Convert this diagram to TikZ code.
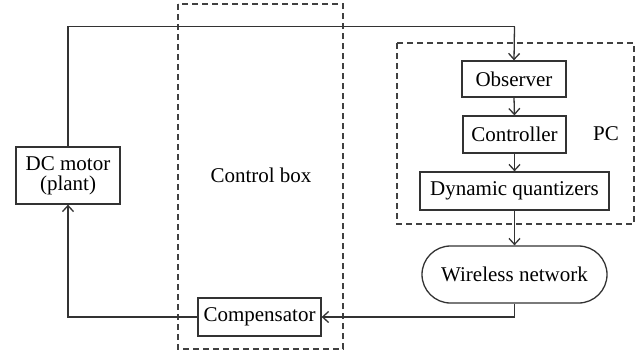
\documentclass[tikz,border=0pt]{standalone}
\usepackage{fontspec}
\setmainfont{Liberation Serif}
\usetikzlibrary{arrows.meta,shapes.misc}
\begin{document}
\begin{tikzpicture}[x=1pt,y=-1pt,
  blk/.style={draw=black!80,line width=1.3pt,rectangle,inner sep=0pt,font=\fontsize{21}{23}\selectfont,align=center},
  grp/.style={draw=black!75,dash pattern=on 6pt off 4pt,line width=1.1pt},
  wire/.style={draw=black!80,line width=1.3pt},
  arr/.style={wire,-{Straight Barb[length=6pt,width=11pt]}},
  lbl/.style={font=\fontsize{21}{23}\selectfont}]
\useasboundingbox (0,0) rectangle (642,357);
% groups
\draw[grp] (178,4) rectangle (343,349);
\draw[grp] (397,43) rectangle (634,224);
% blocks
\node[blk,minimum width=104pt,minimum height=57pt] (dc) at (68,175.5) {DC motor\\[-3pt](plant)};
\node[lbl] (cb) at (261,175) {Control box};
\node[blk,minimum width=123pt,minimum height=38pt] (comp) at (259.5,317) {Compensator};
\node[blk,minimum width=104pt,minimum height=36pt] (obs) at (514,79) {Observer};
\node[blk,minimum width=103pt,minimum height=37pt] (ctrl) at (514.5,134.5) {Controller};
\node[blk,minimum width=189pt,minimum height=38pt] (dq) at (514.5,191) {Dynamic quantizers};
\node[lbl] (pc) at (606,134) {PC};
\node[draw=black!80,line width=1.3pt,rounded rectangle,minimum width=185pt,minimum height=57pt,inner sep=0pt,font=\fontsize{21}{23}\selectfont] (wn) at (514.5,274.5) {Wireless network};
% connectors
\coordinate (tr) at (514.5,26.5);
\draw[wire,line join=miter] (dc.north) |- (tr);
\draw[arr] (tr) -- (obs.north);
\draw[arr] (obs.south) -- (ctrl.north);
\draw[arr] (ctrl.south) -- (dq.north);
\draw[arr] (dq.south -| wn.north) -- (wn.north);
\draw[arr] (wn.south) |- (comp.east);
\draw[arr] (comp.west) -| (dc.south);
\end{tikzpicture}
\end{document}
